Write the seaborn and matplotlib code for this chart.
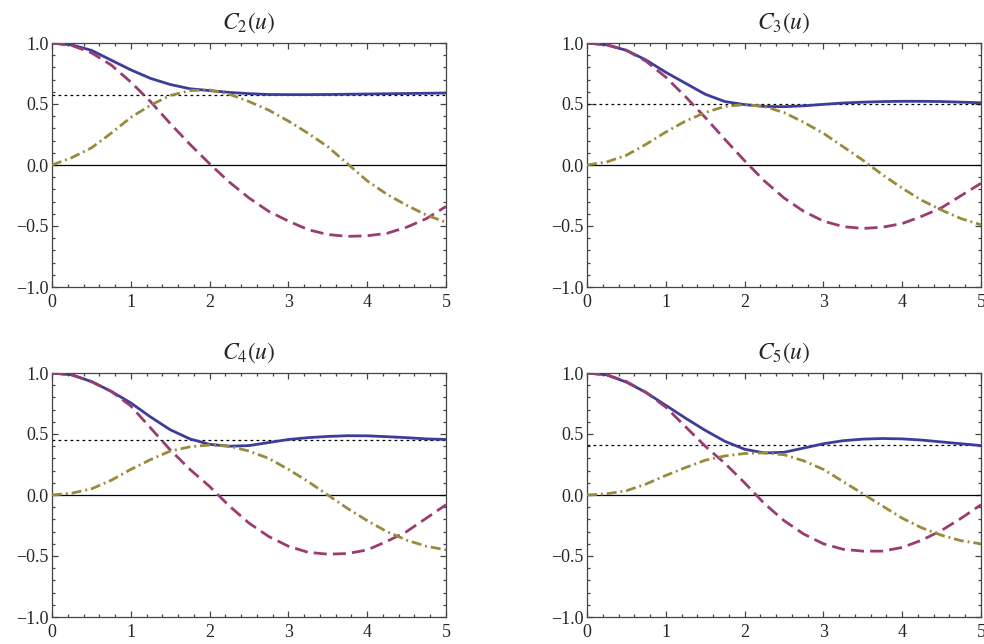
import numpy as np
import pandas as pd
import matplotlib
matplotlib.use("Agg")
import matplotlib.pyplot as plt
from matplotlib.ticker import MultipleLocator, FuncFormatter
import seaborn as sns

u = [0.0, 0.25, 0.5, 0.75, 1.0, 1.25, 1.5, 1.75, 2.0, 2.25, 2.5, 2.75, 3.0,
     3.25, 3.5, 3.75, 4.0, 4.25, 4.5, 4.75, 5.0]

titles = [r"$C_2(u)$", r"$C_3(u)$", r"$C_4(u)$", r"$C_5(u)$"]

mod_c2 = [1.0, 0.985, 0.94, 0.86, 0.78, 0.71, 0.66, 0.625, 0.61, 0.595, 0.585, 0.578, 0.577,
          0.577, 0.578, 0.58, 0.582, 0.584, 0.586, 0.588, 0.59]
re_c2 = [1.0, 0.98, 0.92, 0.82, 0.68, 0.52, 0.34, 0.17, 0.01, -0.14, -0.27, -0.38, -0.46,
         -0.53, -0.57, -0.585, -0.58, -0.56, -0.51, -0.44, -0.34]
im_c2 = [0.0, 0.06, 0.14, 0.26, 0.39, 0.49, 0.57, 0.61, 0.615, 0.58, 0.52, 0.45, 0.36,
         0.26, 0.15, 0.01, -0.13, -0.24, -0.33, -0.41, -0.47]

mod_c3 = [1.0, 0.985, 0.94, 0.86, 0.76, 0.67, 0.58, 0.52, 0.495, 0.48, 0.478, 0.485, 0.497,
          0.508, 0.515, 0.52, 0.522, 0.522, 0.52, 0.515, 0.51]
re_c3 = [1.0, 0.985, 0.94, 0.85, 0.72, 0.56, 0.39, 0.21, 0.035, -0.13, -0.27, -0.38, -0.46,
         -0.505, -0.52, -0.51, -0.48, -0.42, -0.35, -0.25, -0.15]
im_c3 = [0.0, 0.025, 0.08, 0.17, 0.27, 0.36, 0.43, 0.48, 0.495, 0.48, 0.43, 0.35, 0.26,
         0.15, 0.04, -0.08, -0.19, -0.29, -0.37, -0.44, -0.49]

mod_c4 = [1.0, 0.985, 0.93, 0.85, 0.755, 0.64, 0.535, 0.46, 0.415, 0.40, 0.405, 0.43, 0.455,
          0.47, 0.48, 0.486, 0.485, 0.478, 0.47, 0.46, 0.455]
re_c4 = [1.0, 0.985, 0.93, 0.85, 0.73, 0.55, 0.37, 0.21, 0.07, -0.09, -0.23, -0.34, -0.42,
         -0.47, -0.485, -0.48, -0.45, -0.38, -0.30, -0.19, -0.08]
im_c4 = [0.0, 0.015, 0.05, 0.12, 0.21, 0.29, 0.36, 0.395, 0.41, 0.40, 0.36, 0.30, 0.21,
         0.11, 0.0, -0.11, -0.21, -0.30, -0.37, -0.42, -0.45]

mod_c5 = [1.0, 0.985, 0.925, 0.84, 0.735, 0.63, 0.53, 0.44, 0.375, 0.345, 0.35, 0.385, 0.42,
          0.445, 0.458, 0.463, 0.46, 0.45, 0.435, 0.42, 0.405]
re_c5 = [1.0, 0.985, 0.93, 0.84, 0.72, 0.56, 0.40, 0.26, 0.10, -0.07, -0.21, -0.32, -0.40,
         -0.445, -0.46, -0.46, -0.43, -0.37, -0.29, -0.19, -0.08]
im_c5 = [0.0, 0.01, 0.035, 0.09, 0.16, 0.225, 0.285, 0.32, 0.34, 0.345, 0.33, 0.28, 0.21,
         0.11, 0.01, -0.09, -0.19, -0.27, -0.33, -0.375, -0.40]

limits = [0.577, 0.5, 0.447, 0.408]

mods = [mod_c2, mod_c3, mod_c4, mod_c5]
res = [re_c2, re_c3, re_c4, re_c5]
ims = [im_c2, im_c3, im_c4, im_c5]

sns.set_style("ticks")
plt.rcParams["font.family"] = ["Liberation Serif", "DejaVu Serif"]
plt.rcParams["mathtext.fontset"] = "stix"
plt.rcParams["axes.unicode_minus"] = True

blue = "#3D3D99"
magenta = "#993D71"
olive = "#998B3D"

fig = plt.figure(figsize=(9.84, 6.44), dpi=100)
W, H = 984, 644
boxes = [(52, 43), (587, 43), (52, 373), (587, 373)]
aw, ah = 394, 244

def fmt(v, pos):
    s = "%.1f" % v
    return s.replace("-", "\u2212")

for i in range(4):
    x0, y0 = boxes[i]
    ax = fig.add_axes([x0 / W, (H - y0 - ah) / H, aw / W, ah / H])
    df = pd.DataFrame({"u": u, "mod": mods[i], "re": res[i], "im": ims[i]})
    ax.axhline(0, color="black", lw=0.9, zorder=1)
    ax.axhline(limits[i], color="black", lw=0.9, linestyle=(0, (2.2, 2.6)), zorder=1)
    sns.lineplot(data=df, x="u", y="mod", ax=ax, color=blue, lw=2.0, zorder=3)
    sns.lineplot(data=df, x="u", y="re", ax=ax, color=magenta, lw=2.0,
                 linestyle=(0, (4.7, 2.2)), zorder=4)
    sns.lineplot(data=df, x="u", y="im", ax=ax, color=olive, lw=2.0,
                 linestyle=(0, (3.6, 1.4, 0.7, 1.4)), zorder=4)
    ax.set_xlim(0, 5)
    ax.set_ylim(-1, 1)
    ax.set_xlabel("")
    ax.set_ylabel("")
    ax.set_title(titles[i], fontsize=17, pad=10.5)
    ax.xaxis.set_major_locator(MultipleLocator(1))
    ax.xaxis.set_minor_locator(MultipleLocator(0.2))
    ax.yaxis.set_major_locator(MultipleLocator(0.5))
    ax.yaxis.set_minor_locator(MultipleLocator(0.1))
    ax.yaxis.set_major_formatter(FuncFormatter(fmt))
    ax.tick_params(which="both", direction="in", top=True, right=True,
                   color="#444444", width=0.9)
    ax.tick_params(which="major", length=4.5, labelsize=13)
    ax.tick_params(axis="y", which="major", pad=2.5)
    ax.tick_params(axis="x", which="major", pad=5)
    ax.tick_params(which="minor", length=2.5)
    for sp in ax.spines.values():
        sp.set_color("#444444")
        sp.set_linewidth(0.9)

fig.savefig("out.png", dpi=100)
